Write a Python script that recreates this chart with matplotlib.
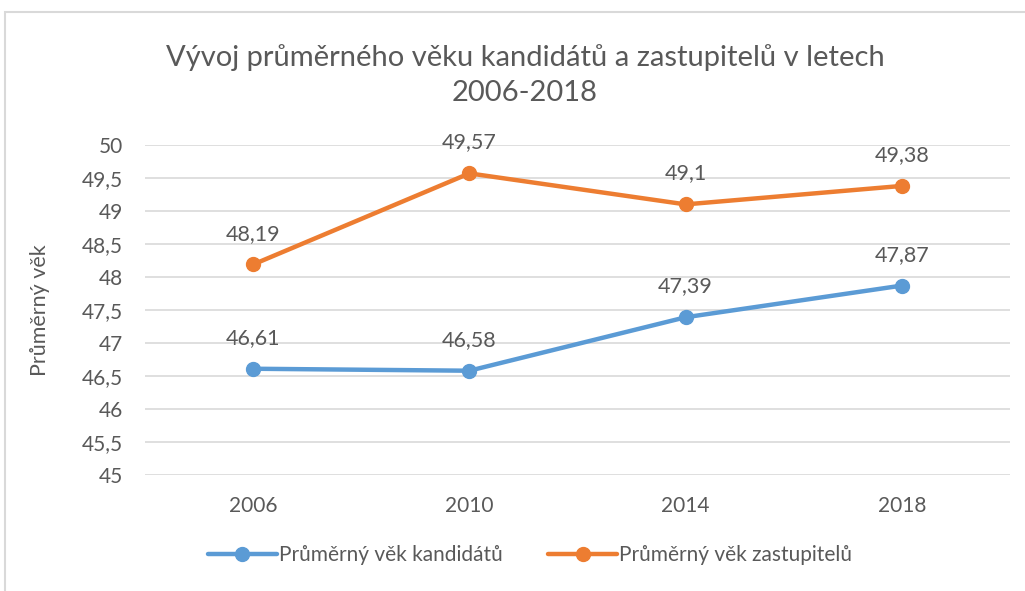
import matplotlib
matplotlib.use('Agg')
import matplotlib.pyplot as plt
from matplotlib.patches import Rectangle
import numpy as np

# data
years = ['2006', '2010', '2014', '2018']
kandidati = [46.61, 46.58, 47.39, 47.87]
zastupitele = [48.19, 49.57, 49.1, 49.38]
yticks = [45, 45.5, 46, 46.5, 47, 47.5, 48, 48.5, 49, 49.5, 50]

plt.rcParams['font.family'] = ['Lato', 'DejaVu Sans']
txt = '#595959'

fig = plt.figure(figsize=(10.25, 5.91), dpi=100)
# chart frame
fig.patches.append(Rectangle((5 / 1025, -0.1), 1.2, 1.1 - 12 / 591, transform=fig.transFigure,
                             fill=False, edgecolor='#D9D9D9', linewidth=1.5))

ax = fig.add_axes([145 / 1025, 1 - 475 / 591, 865 / 1025, 330 / 591])
x = np.arange(len(years))

ax.plot(x, kandidati, color='#5B9BD5', lw=3.2, marker='o', ms=10, label='Průměrný věk kandidátů',
        solid_capstyle='round', zorder=3)
ax.plot(x, zastupitele, color='#ED7D31', lw=3.2, marker='o', ms=10, label='Průměrný věk zastupitelů',
        solid_capstyle='round', zorder=3)

for xs, ys in [(x, kandidati), (x, zastupitele)]:
    for xi, yi in zip(xs, ys):
        ax.annotate(f'{yi:g}'.replace('.', ','), (xi, yi), xytext=(0, 15), textcoords='offset points',
                    ha='center', va='bottom', fontsize=15.5, color=txt)

ax.set_xlim(-0.5, len(years) - 0.5)
ax.set_ylim(45, 50)
ax.set_xticks(x)
ax.set_xticklabels(years)
ax.set_yticks(yticks)
ax.set_yticklabels([f'{v:g}'.replace('.', ',') for v in yticks])
ax.tick_params(axis='both', length=0, labelsize=15, labelcolor=txt)
ax.tick_params(axis='y', pad=16)
ax.tick_params(axis='x', pad=15)
ax.grid(axis='y', color='#D9D9D9', lw=1.2)
ax.set_axisbelow(True)
for s in ax.spines.values():
    s.set_visible(False)

fig.text(40 / 1025, 1 - 310 / 591, 'Průměrný věk', rotation=90, ha='center', va='center',
         fontsize=15.5, color=txt)
fig.text(525 / 1025, 1 - 75 / 591, 'Vývoj průměrného věku kandidátů a zastupitelů v letech\n2006-2018',
         ha='center', va='center', fontsize=21, color=txt, linespacing=1.4)

leg = fig.legend(loc='center', bbox_to_anchor=(530 / 1025, 1 - 555 / 591), ncol=2, frameon=False,
                 fontsize=15, handlelength=3.3, handletextpad=0.1, columnspacing=2.2)
for t in leg.get_texts():
    t.set_color(txt)

fig.savefig('out.png', dpi=100)
